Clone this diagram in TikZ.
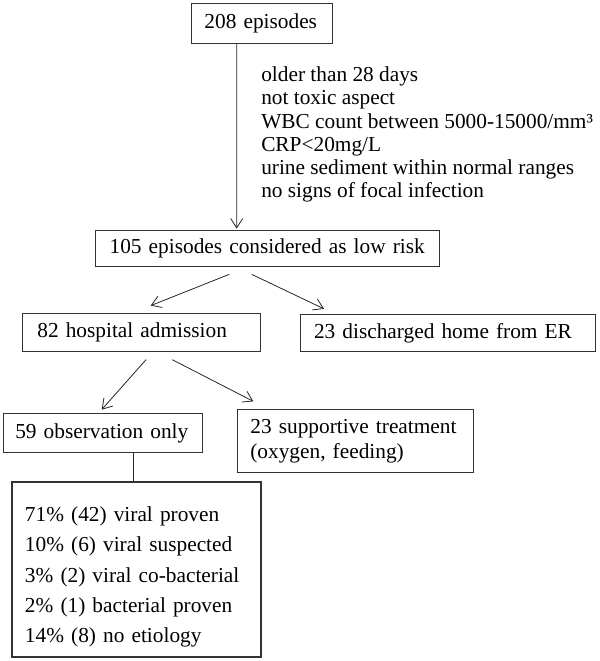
\documentclass[tikz,border=0pt]{standalone}
\usepackage{fontspec}
\setmainfont{Liberation Serif}
\usetikzlibrary{arrows.meta}

\begin{document}
\begin{tikzpicture}[x=0.75pt,y=-0.75pt,
	font=\fontsize{16}{17.4}\selectfont,
	box/.style={draw=black!80,line width=0.6pt,rectangle,align=left,inner xsep=10pt,inner ysep=0pt},
	flow/.style={draw=black!85,line width=0.6pt,-{Straight Barb[length=7pt,width=9pt]}}]
	\useasboundingbox (0,0) rectangle (600,661);
	% boxes
	\node[box,text width=86.3pt,minimum height=30pt] (start) at (262,23.3) {208 episodes};
	\node[anchor=north west,inner sep=0pt,align=left] (crit) at (261,66.7)
		{older than 28 days\\not toxic aspect\\WBC count between 5000-15000/mm³\\CRP<20mg/L\\urine sediment within normal ranges\\no signs of focal infection};
	\node[box,inner xsep=11pt,text width=236.5pt,minimum height=27.5pt] (low) at (267.3,248.3) {105 episodes considered as low risk};
	\node[box,inner xsep=11pt,text width=156.5pt,minimum height=28.8pt] (hosp) at (141.7,332.5) {82 hospital admission};
	\node[box,inner xsep=10pt,text width=200.7pt,minimum height=28.3pt] (home) at (447.8,332.8) {23 discharged home from ER};
	\node[box,inner xsep=9pt,text width=131.25pt,minimum height=29.5pt] (obs) at (102.8,433) {59 observation only};
	\node[box,inner xsep=9.5pt,text width=157.7pt,minimum height=47.5pt,
		font=\fontsize{16}{18.8}\selectfont] (supp) at (355.5,441) {23 supportive treatment\\(oxygen, feeding)};
	\node[box,line width=1.5pt,inner xsep=10pt,text width=167pt,minimum height=131pt,
		font=\fontsize{16}{22.7}\selectfont] (etio) at (136.3,569.8)
		{\rule{0pt}{22pt}71\% (42) viral proven\\10\% (6) viral suspected\\3\% (2) viral co-bacterial\\2\% (1) bacterial proven\\14\% (8) no etiology};
	% connectors
	\draw[flow] ([shift={(-25.3,0)}]start.south) -- ([shift={(-30.6,-1)}]low.north);
	\draw[flow] ([shift={(-38,7.3)}]low.south) -- ([shift={(9,-7.3)}]hosp.north);
	\draw[flow] ([shift={(-15.6,7.3)}]low.south) -- ([shift={(-123.8,-4.7)}]home.north);
	\draw[flow] ([shift={(4.3,7.6)}]hosp.south) -- ([shift={(-1.1,-3.3)}]obs.north);
	\draw[flow] ([shift={(30.6,7.6)}]hosp.south) -- ([shift={(-102.2,-7.6)}]supp.north);
	\draw[draw=black!85,line width=0.6pt] ([shift={(30.5,0)}]obs.south) -- ([shift={(-3,0)}]etio.north);
\end{tikzpicture}
\end{document}
